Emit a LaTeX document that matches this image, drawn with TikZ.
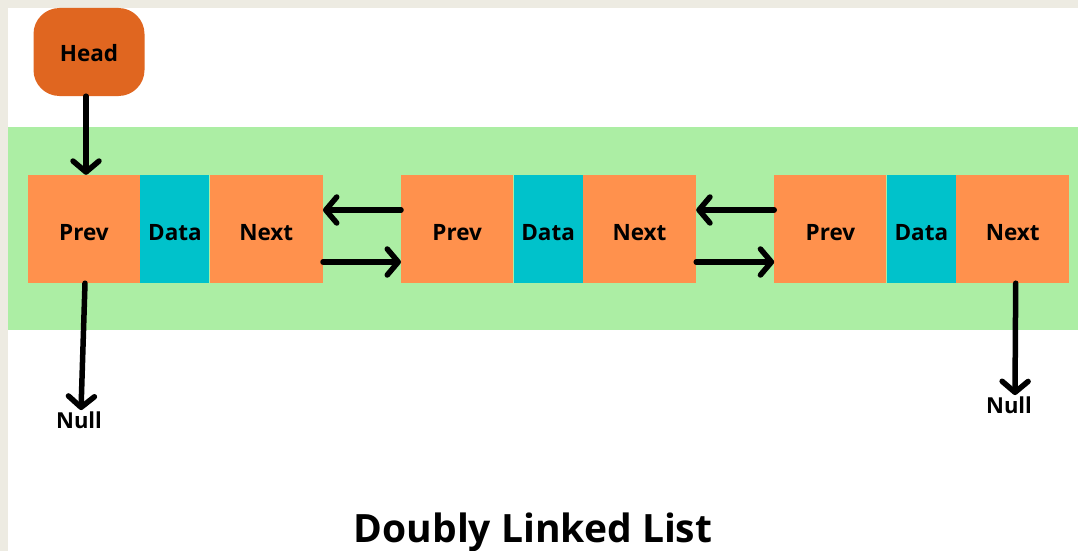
\documentclass[tikz,border=0pt]{standalone}
\usepackage{fontspec}
\setmainfont{Open Sans}
\usetikzlibrary{positioning,arrows.meta}
\definecolor{frameBeige}{RGB}{237,235,226}
\definecolor{bandGreen}{RGB}{172,238,164}
\definecolor{cellOrange}{RGB}{255,145,77}
\definecolor{cellTeal}{RGB}{0,194,203}
\definecolor{headOrange}{RGB}{224,102,32}

\begin{document}
\begin{tikzpicture}[x=1pt,y=-1pt]
	%defines
	\tikzstyle{cell} = [rectangle, minimum height=108pt, inner sep=0pt, text height=22pt, text depth=0pt, font=\fontsize{22.5}{26}\selectfont\bfseries]
	\tikzstyle{prevCell} = [cell, fill=cellOrange, minimum width=112pt]
	\tikzstyle{dataCell} = [cell, fill=cellTeal, minimum width=69pt]
	\tikzstyle{nextCell} = [cell, fill=cellOrange, minimum width=113pt]
	\tikzstyle{headBox} = [rectangle, rounded corners=26pt, minimum width=111pt, minimum height=88pt, text height=20pt, text depth=0pt, fill=headOrange, font=\fontsize{22.5}{26}\selectfont\bfseries]
	\tikzstyle{nullText} = [inner sep=1pt, font=\fontsize{22}{26}\selectfont\bfseries]
	\tikzstyle{arrow} = [line width=5.5pt, line cap=round, -{Straight Barb[length=11pt, width=26pt, line cap=round, line join=round]}]
	%frame
	\useasboundingbox (0,0) rectangle (1078,551);
	\clip (0,0) rectangle (1078,551);
	\fill [frameBeige] (0,0) rectangle (1078,551);
	\fill [white] (8,8) rectangle (1078,551);
	\fill [bandGreen] (8,127) rectangle (1078,330);
	%chart
	\node (head) [headBox] at (89,52) {Head};
	\node (prevA) [prevCell] at (84,229) {Prev};
	\node (dataA) [dataCell, right=0pt of prevA] {Data};
	\node (nextA) [nextCell, right=0pt of dataA] {Next};
	\node (prevB) [prevCell, right=78pt of nextA] {Prev};
	\node (dataB) [dataCell, right=0pt of prevB] {Data};
	\node (nextB) [nextCell, right=0pt of dataB] {Next};
	\node (prevC) [prevCell, right=78pt of nextB] {Prev};
	\node (dataC) [dataCell, right=0pt of prevC] {Data};
	\node (nextC) [nextCell, right=0pt of dataC] {Next};
	\node (nullA) [nullText, anchor=base] at (79,428) {Null};
	\node (nullC) [nullText, anchor=base] at (1009,413) {Null};
	\node (title) [anchor=base, font=\fontsize{39}{47}\selectfont\bfseries] at (533,542) {Doubly Linked List};
	\draw [arrow] ([xshift=-3pt]head.south) -- ([xshift=2pt]prevA.north);
	\draw [arrow] ([yshift=19pt]prevB.west) -- ([yshift=19pt]nextA.east);
	\draw [arrow] ([yshift=-33pt]nextA.east) -- ([yshift=-33pt]prevB.west);
	\draw [arrow] ([yshift=19pt]prevC.west) -- ([yshift=19pt]nextB.east);
	\draw [arrow] ([yshift=-33pt]nextB.east) -- ([yshift=-33pt]prevC.west);
	\draw [arrow] ([xshift=1pt]prevA.south) -- ([xshift=2pt]nullA.north);
	\draw [arrow] ([xshift=3pt]nextC.south) -- ([xshift=6pt]nullC.north);
\end{tikzpicture}
\end{document}
